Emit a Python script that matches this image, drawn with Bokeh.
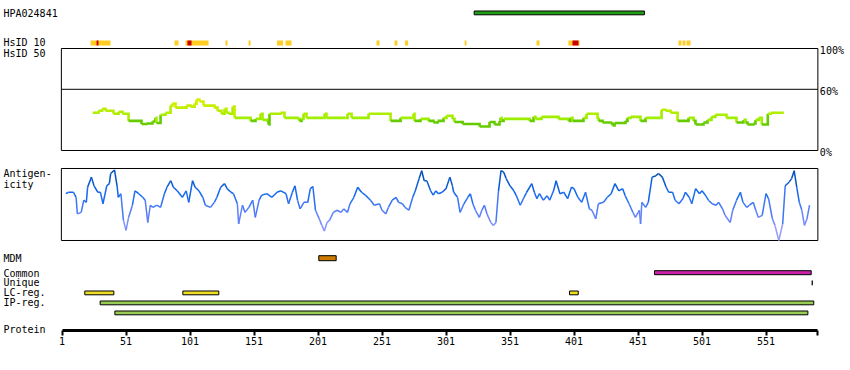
from bokeh.plotting import figure
from bokeh.models import Range1d, LinearAxis, FixedTicker, Label
from bokeh.core.properties import value
from bokeh.embed import file_html
from bokeh.resources import INLINE

FONT = "DejaVu Sans Mono"

# ---------------- data ----------------
protein_length = 591
axis_ticks = [1, 51, 101, 151, 201, 251, 301, 351, 401, 451, 501, 551]

hpa_start = [323]
hpa_end = [456]

hsid10_yellow_start = [23.3, 88.9, 97.5, 128.7, 146.7, 169.0, 175.6, 246.7, 260.8, 269.0,
                       315.5, 371.7, 396.6, 482.6, 485.8, 488.9]
hsid10_yellow_end = [38.9, 92.0, 115.5, 130.3, 148.3, 173.7, 180.3, 249.0, 263.0, 271.4,
                     317.0, 374.0, 405.3, 485.0, 488.1, 492.0]
hsid10_red_start = [28.0, 99.0, 399.8]
hsid10_red_end = [29.5, 102.2, 404.5]

hsid50_pos = [25, 29.5, 32.4, 35, 41.2, 45.2, 48.3, 53, 63.1, 67,
              71.7, 74, 74.8, 78, 81.9, 85.8, 87.3, 89.7, 98.3, 101.4,
              104.6, 106.1, 108.4, 111.5, 120.1, 122.5, 125.6, 128, 129.5, 131.1,
              134.3, 135.8, 148.3, 152.2, 156.1, 157.7, 161.6, 162.3, 163.1, 171.7,
              174.8, 185, 186.5, 188.1, 189.7, 192, 205.3, 206.1, 207.6, 222.5,
              224.1, 227.2, 240.5, 257.7, 265.5, 274.9, 275.6, 276.4, 281.1, 287.3,
              291.2, 294.4, 299.1, 301.4, 306.1, 307.6, 314, 327.2, 335, 338.9,
              342.8, 343.6, 344.4, 346, 366.3, 369.4, 370.9, 375.6, 388.9, 396.7,
              398.3, 399.8, 408.4, 410.8, 419.4, 420.2, 423.3, 429.6, 431.1, 432.7,
              441.2, 442.8, 445.2, 452.9, 456.9, 468.6, 469.4, 472.5, 476.4, 481.9,
              490.5, 494.4, 495.9, 502.2, 505.3, 508.4, 511.5, 520.1, 527.9, 533.4,
              535, 536.5, 541.2, 542.8, 545.4, 547.7, 552.4, 554.7, 564.9]
hsid50_val = [37, 39, 41, 39, 36, 38, 36, 29, 26, 26.5,
              28.4, 32, 27, 35, 37, 44, 46, 42, 44, 43,
              46, 50, 48, 44, 42, 39, 36, 41, 37, 36,
              43, 32, 29, 31, 36, 30, 28, 25.5, 36, 37,
              32, 31, 29, 31, 36, 32, 32, 36, 32, 32,
              36, 32, 36, 29, 32, 32, 36, 29, 31, 29,
              27.5, 29, 32, 34, 31, 28, 26, 23.5, 28, 25.5,
              29, 32, 29, 31, 29, 33, 31, 33, 31, 29,
              32, 29, 32, 36, 31, 29, 27.5, 26.5, 24.5, 27,
              29, 32, 33, 29, 32, 32, 40, 39, 37, 29,
              32, 29, 25.5, 27.5, 30, 33, 35, 32, 27.5, 30,
              27.5, 25.5, 26.5, 30, 32, 25.5, 36, 37, 37]
hsid_ticks = [100, 60, 0]
hsid_tick_labels = ["100%", "60%", "0%"]

antigen_pos = [4, 6, 10, 12, 13, 16, 18, 20, 21, 24, 26, 29, 31, 33, 36, 38, 39, 42, 44, 45,
               47, 49, 51, 53, 56, 58, 61, 64, 66, 68, 70, 72, 75, 78, 81, 83, 86, 88, 91, 95,
               98, 100, 103, 105, 108, 111, 113, 117, 120, 122, 125, 128, 130, 133, 135, 138, 139, 142, 144, 147,
               150, 152, 155, 157, 161, 165, 169, 172, 176, 178, 181, 183, 185, 187, 190, 193, 195, 197, 199, 202,
               204, 206, 208, 210, 213, 216, 219, 221, 224, 226, 229, 232, 235, 238, 242, 245, 249, 251, 254, 256,
               259, 262, 264, 267, 269, 272, 275, 277, 280, 282, 284, 286, 289, 291, 293, 295, 298, 301, 304, 306,
               307, 310, 312, 315, 318, 320, 322, 324, 327, 329, 331, 333, 336, 338, 340, 342, 344, 346, 348, 351,
               354, 356, 359, 362, 364, 368, 370, 372, 374, 377, 380, 382, 385, 387, 390, 393, 396, 399, 401, 404,
               407, 410, 413, 415, 418, 420, 424, 427, 430, 433, 436, 439, 441, 444, 447, 449, 452, 453, 454, 457,
               459, 462, 465, 467, 470, 473, 475, 478, 480, 483, 486, 488, 491, 493, 496, 499, 501, 504, 506, 509,
               512, 514, 517, 519, 523, 525, 528, 531, 533, 536, 538, 541, 543, 545, 548, 551, 553, 556, 558, 561,
               564, 566, 569, 571, 573, 575, 577, 579, 581, 583, 585]
antigen_val = [65, 67, 67, 60, 37, 39, 56, 53, 74, 88, 76, 67, 67, 51, 76, 79, 93, 98, 76, 60,
               65, 28, 14, 32, 49, 69, 65, 60, 56, 25, 49, 46, 49, 46, 65, 74, 83, 74, 69, 60,
               69, 53, 83, 74, 69, 60, 49, 46, 53, 60, 74, 79, 72, 67, 65, 51, 23, 49, 39, 46,
               56, 32, 56, 63, 65, 60, 67, 69, 65, 51, 67, 76, 56, 44, 53, 53, 72, 75, 42, 30,
               21, 13, 25, 28, 39, 42, 39, 44, 39, 51, 60, 74, 67, 63, 56, 49, 51, 42, 37, 46,
               56, 60, 53, 51, 46, 42, 60, 69, 86, 97, 83, 83, 69, 63, 69, 65, 67, 72, 88, 76,
               67, 60, 39, 51, 60, 65, 51, 42, 32, 42, 49, 37, 25, 21, 25, 69, 97, 95, 86, 76,
               69, 62, 49, 60, 67, 79, 67, 58, 65, 56, 62, 56, 69, 83, 65, 67, 58, 74, 72, 60,
               53, 67, 44, 42, 30, 51, 53, 60, 65, 79, 69, 72, 62, 51, 39, 32, 42, 23, 53, 46,
               53, 88, 90, 93, 88, 74, 67, 67, 56, 51, 58, 67, 60, 51, 72, 65, 69, 62, 56, 51,
               49, 53, 44, 35, 25, 42, 56, 67, 53, 46, 49, 53, 42, 32, 35, 65, 58, 30, 21, 0,
               23, 76, 81, 86, 97, 74, 53, 42, 21, 30, 49]

mdm_start = [201.6]
mdm_end = [215.2]
common_start = [463.9]
common_end = [586.3]
unique_start = [586.6]
unique_end = [587.6]
lc_start = [18.8, 95.4, 397.5]
lc_end = [41.5, 123.5, 404.3]
ip_start = [30.8, 42.3]
ip_end = [588.3, 583.7]

row_labels = ["HPA024841", "HsID 10", "HsID 50", "Antigen-", "icity", "MDM",
              "Common", "Unique", "LC-reg.", "IP-reg.", "Protein"]

# ---------------- layout (pixel rows from the top) ----------------
row_label_y = [12.8, 42.3, 52.5, 173, 183.5, 257.5, 272.8, 282.2, 292.3, 302.3, 328.5]
protein_axis_y = 329.8


def lerp_color(stops, v):
    stops = sorted(stops)
    if v <= stops[0][0]:
        c = stops[0][1]
    elif v >= stops[-1][0]:
        c = stops[-1][1]
    else:
        for (a, ca), (b, cb) in zip(stops[:-1], stops[1:]):
            if a <= v <= b:
                t = (v - a) / (b - a)
                c = tuple(ca[k] + (cb[k] - ca[k]) * t for k in range(3))
                break
    return "#%02x%02x%02x" % tuple(int(round(x)) for x in c)


def hs_color(v):
    if v < 30:
        return "#66cc00"
    return lerp_color([(30, (0x99, 0xee, 0x00)), (50, (0xdd, 0xee, 0x00))], v)


def ag_color(v):
    return lerp_color([(0, (175, 165, 255)), (35, (100, 130, 250)),
                       (65, (20, 105, 240)), (100, (0, 70, 165))], v)


p = figure(width=850, height=370, output_backend="svg", toolbar_location=None,
           x_axis_type=None, y_axis_type=None,
           x_range=Range1d(-47.05, 617.0), y_range=Range1d(370, 0),
           min_border_left=0, min_border_right=0, min_border_top=0, min_border_bottom=0,
           outline_line_color=None, background_fill_color="white", border_fill_color="white")
p.extra_y_ranges = {"hsid": Range1d(-215.69, 147.06), "anti": Range1d(-180.56, 333.33)}

# HPA antigen bar
p.quad(left=hpa_start, right=hpa_end, top=10.5, bottom=14.3,
       fill_color="#1f9e14", line_color="black", line_width=1)

# HsID 10 marks
p.quad(left=hsid10_yellow_start, right=hsid10_yellow_end, top=40, bottom=45,
       fill_color="#ffcc22", line_color=None)
p.quad(left=hsid10_red_start, right=hsid10_red_end, top=40, bottom=45,
       fill_color="#cc0000", line_color=None)

# HsID 50 box
p.quad(left=[0.5], right=[protein_length + 0.5], bottom=[0], top=[100],
       fill_color=None, line_color="black", line_width=1, y_range_name="hsid")
p.segment(x0=[0.5], x1=[protein_length + 0.5], y0=[60], y1=[60],
          line_color="black", line_width=1, y_range_name="hsid")
p.text(x=[protein_length + 0.5] * 3, y=hsid_ticks, text=hsid_tick_labels, x_offset=2, y_offset=2,
       text_font=value(FONT), text_font_size="10px", text_baseline="middle", text_color="black",
       y_range_name="hsid")

hx, hy, hc = [], [], []
for i in range(len(hsid50_pos) - 1):
    hx.append([hsid50_pos[i], hsid50_pos[i + 1], hsid50_pos[i + 1]])
    hy.append([hsid50_val[i], hsid50_val[i], hsid50_val[i + 1]])
    hc.append(hs_color(hsid50_val[i]))
p.multi_line(xs=hx, ys=hy, line_color=hc, line_width=2.6, line_cap="butt", line_join="miter",
             y_range_name="hsid")

# Antigenicity box and line
p.quad(left=[0.5], right=[protein_length + 0.5], bottom=[0], top=[100],
       fill_color=None, line_color="black", line_width=1, y_range_name="anti")
ax0, ax1, ay0, ay1, ac = [], [], [], [], []
for i in range(len(antigen_pos) - 1):
    ax0.append(antigen_pos[i]); ax1.append(antigen_pos[i + 1])
    ay0.append(antigen_val[i]); ay1.append(antigen_val[i + 1])
    ac.append(ag_color((antigen_val[i] + antigen_val[i + 1]) / 2))
p.segment(x0=ax0, x1=ax1, y0=ay0, y1=ay1, line_color=ac, line_width=1.5, y_range_name="anti")

# feature tracks
p.quad(left=mdm_start, right=mdm_end, top=255.2, bottom=260.2,
       fill_color="#cc7a00", line_color="black", line_width=1)
p.quad(left=common_start, right=common_end, top=270.2, bottom=274.2,
       fill_color="#cc22aa", line_color="black", line_width=1)
p.quad(left=unique_start, right=unique_end, top=280, bottom=284.7,
       fill_color="black", line_color=None)
p.quad(left=lc_start, right=lc_end, top=290.5, bottom=294.3,
       fill_color="#eedd22", line_color="black", line_width=1)
p.quad(left=ip_start[:1], right=ip_end[:1], top=300.5, bottom=304.3,
       fill_color="#99cc55", line_color="black", line_width=1)
p.quad(left=ip_start[1:], right=ip_end[1:], top=310.5, bottom=314.3,
       fill_color="#99cc55", line_color="black", line_width=1)

# row labels
for txt, yy in zip(row_labels, row_label_y):
    p.add_layout(Label(x=3, x_units="screen", y=yy, y_units="data", text=txt,
                       text_font=FONT, text_font_size="10px", text_baseline="middle",
                       text_color="black"))

# protein axis
axis = LinearAxis(ticker=FixedTicker(ticks=axis_ticks + [protein_length]),
                  major_label_overrides={protein_length: ""},
                  bounds=(1, protein_length), fixed_location=protein_axis_y,
                  axis_line_width=3, axis_line_color="black",
                  major_tick_line_width=2, major_tick_line_color="black",
                  major_tick_out=5, major_tick_in=0, minor_tick_line_color=None,
                  major_label_standoff=2, major_label_text_font=FONT,
                  major_label_text_font_size="10px", major_label_text_color="black")
p.add_layout(axis, "below")

open("out.html", "w").write(file_html(p, INLINE))
